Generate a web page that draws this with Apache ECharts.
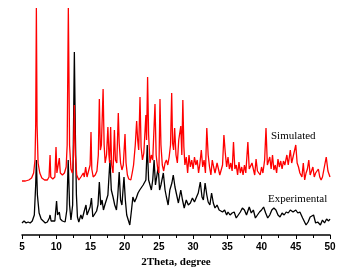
<!DOCTYPE html>
<html>
<head>
<meta charset="utf-8">
<script src="https://cdn.jsdelivr.net/npm/echarts@6/dist/echarts.min.js"></script>
<style>html,body{margin:0;padding:0;background:#fff}#c{width:362px;height:277px}</style>
</head>
<body>
<div id="c"></div>
<script>
// 2Theta (degree) positions and intensities (arbitrary units, offset applied in data as read)
var expX = [5.0,5.3,5.6,5.9,6.2,6.5,6.8,7.0,7.1,7.25,7.5,7.8,8.1,8.4,8.7,9.0,9.1,9.25,9.5,9.8,10.05,10.2,10.45,10.6,10.9,11.3,11.55,11.75,11.95,12.15,12.4,12.65,12.8,12.95,13.1,13.3,13.6,13.8,14.1,14.35,14.5,14.7,14.95,15.15,15.35,15.6,15.9,16.1,16.3,16.5,16.7,16.9,17.1,17.3,17.55,17.85,18.05,18.3,18.55,18.8,19.0,19.2,19.4,19.6,19.9,20.1,20.3,20.5,20.75,21.0,21.2,21.45,21.7,21.95,22.2,22.45,22.7,22.95,23.1,23.3,23.5,23.7,23.9,24.1,24.3,24.5,24.7,24.9,25.1,25.3,25.65,25.9,26.1,26.35,26.6,26.9,27.1,27.35,27.6,27.85,28.2,28.45,28.7,29.0,29.3,29.6,29.9,30.2,30.5,30.75,31.05,31.3,31.5,31.75,32.0,32.2,32.45,32.7,32.95,33.2,33.5,33.8,34.0,34.3,34.6,34.9,35.1,35.4,35.7,36.0,36.3,36.6,36.9,37.2,37.5,37.8,38.2,38.5,38.8,39.1,39.4,39.7,40.0,40.3,40.6,40.9,41.2,41.5,41.8,42.1,42.4,42.7,43.0,43.3,43.6,43.9,44.2,44.6,45.0,45.3,45.6,46.0,46.5,46.8,47.1,47.6,47.9,48.2,48.6,48.9,49.2,49.5,49.8,50.0];
var expY = [12,14,12,13,12,14,20,50,75,40,22,16,14,12,13,17,20,14,12,14,34,20,23,16,14,13,25,75,30,15,30,183,100,40,18,13,20,16,24,30,20,18,28,37,18,20,24,30,53,30,35,25,30,28,40,75,45,38,30,25,40,63,35,30,58,35,20,20,10,25,38,33,37,42,45,43,50,48,55,90,55,50,45,55,75,50,48,68,45,50,62,45,38,30,45,52,60,48,40,32,45,35,27,35,30,32,37,33,38,42,53,38,35,52,40,33,30,42,32,27,30,25,27,23,25,20,23,20,22,23,17,20,23,27,25,20,28,22,25,17,20,23,25,28,22,17,20,25,27,25,20,18,22,20,23,22,25,23,25,22,23,17,10,13,18,20,12,13,10,15,12,16,14,16];

var simX = [5.0,5.5,6.0,6.4,6.7,6.9,7.0,7.1,7.2,7.35,7.6,7.9,8.3,8.7,8.95,9.1,9.2,9.5,9.8,9.97,10.1,10.3,10.45,10.6,10.9,11.2,11.45,11.6,11.77,11.95,12.15,12.35,12.5,12.65,12.8,13.0,13.3,13.6,13.96,14.1,14.3,14.5,14.7,14.95,15.08,15.2,15.4,15.7,15.95,16.15,16.3,16.45,16.6,16.85,17.0,17.15,17.35,17.55,17.7,17.8,17.95,18.1,18.3,18.5,18.65,18.85,19.07,19.2,19.4,19.6,19.8,20.05,20.2,20.4,20.6,20.9,21.1,21.3,21.55,21.75,21.9,22.05,22.24,22.4,22.6,22.8,23.1,23.2,23.35,23.5,23.7,23.9,24.1,24.43,24.6,24.8,25.0,25.16,25.3,25.5,25.7,25.9,26.1,26.3,26.5,26.7,26.87,27.0,27.15,27.3,27.5,27.7,27.9,28.2,28.35,28.5,28.65,28.8,29.0,29.2,29.4,29.6,29.8,30.0,30.2,30.4,30.6,30.8,31.0,31.2,31.4,31.6,31.8,32.0,32.2,32.4,32.6,32.8,33.0,33.2,33.5,33.7,33.9,34.1,34.3,34.5,34.7,34.9,35.1,35.3,35.5,35.7,35.9,36.1,36.3,36.5,36.7,36.9,37.1,37.3,37.5,37.7,38.0,38.2,38.4,38.6,38.8,39.0,39.2,39.4,39.6,39.8,40.0,40.2,40.45,40.65,40.85,41.0,41.2,41.4,41.6,41.8,42.0,42.2,42.4,42.6,42.8,43.0,43.2,43.4,43.7,43.9,44.2,44.4,44.6,45.0,45.2,45.4,45.6,45.9,46.1,46.3,46.5,46.7,46.9,47.1,47.3,47.5,47.7,47.9,48.1,48.3,48.5,48.7,48.9,49.1,49.45,49.7,50.0];
var simY = [54,54,55,57,62,75,110,227,110,72,62,57,55,55,58,80,58,56,58,88,62,64,77,62,60,62,68,90,227,90,66,62,75,130,80,60,55,58,62,58,68,58,60,70,103,66,58,60,64,80,136,85,90,146,90,72,80,108,80,72,108,70,62,105,75,72,122,92,72,65,70,101,72,60,56,55,62,70,90,114,95,85,138,88,75,82,120,95,158,100,72,80,75,131,80,68,62,136,90,70,64,72,75,70,78,90,142,92,85,107,80,72,95,109,80,135,88,70,78,62,80,68,75,66,78,70,75,62,72,85,68,75,62,107,80,68,60,75,68,62,72,66,60,58,70,100,82,68,78,66,72,64,93,66,70,60,73,62,68,60,70,62,93,66,64,72,66,60,76,64,66,60,68,62,75,107,70,68,78,66,80,65,70,62,76,68,74,66,74,70,80,70,85,72,78,90,72,68,62,58,72,55,62,66,75,60,62,68,58,62,60,66,58,55,58,60,78,64,58];

var xTicks = [5,10,15,20,25,30,35,40,45,50];

function pairs(xs, ys){ var o=[]; for(var i=0;i<xs.length;i++) o.push([xs[i], ys[i]]); return o; }

var chart = echarts.init(document.getElementById('c'), null, {renderer:'canvas'});
chart.setOption({
  animation: false,
  backgroundColor: '#fff',
  grid: {left: 22, right: 32, top: 5, bottom: 42},
  xAxis: {
    type: 'value', min: xTicks[0], max: xTicks[xTicks.length-1], interval: 5,
    name: '2Theta, degree', nameLocation: 'middle', nameGap: 19,
    nameTextStyle: {fontFamily: 'Liberation Serif', fontWeight: 'bold', fontSize: 11, color: '#000'},
    axisLine: {onZero: false, lineStyle: {color: '#000', width: 1.5}},
    axisTick: {show: true, length: 4, lineStyle: {color: '#000', width: 1}},
    minorTick: {show: true, splitNumber: 2, length: 3, lineStyle: {color: '#000', width: 1}},
    axisLabel: {fontFamily: 'Liberation Sans', fontWeight: 'bold', fontSize: 10, color: '#000', margin: 7},
    splitLine: {show: false}
  },
  yAxis: {type: 'value', min: 0, max: 230, show: false},
  series: [
    {type: 'line', data: pairs(expX, expY), showSymbol: false, lineStyle: {color: '#000', width: 1.3}, itemStyle:{color:'#000'}},
    {type: 'line', data: pairs(simX, simY), showSymbol: false, lineStyle: {color: '#ff0000', width: 1.3}, itemStyle:{color:'#ff0000'}}
  ],
  graphic: [
    {type: 'text', left: 271, top: 131, style: {text: 'Simulated', font: '11px "Liberation Serif"', fill: '#000'}},
    {type: 'text', left: 268, top: 194, style: {text: 'Experimental', font: '11px "Liberation Serif"', fill: '#000'}}
  ]
});
</script>
</body>
</html>
